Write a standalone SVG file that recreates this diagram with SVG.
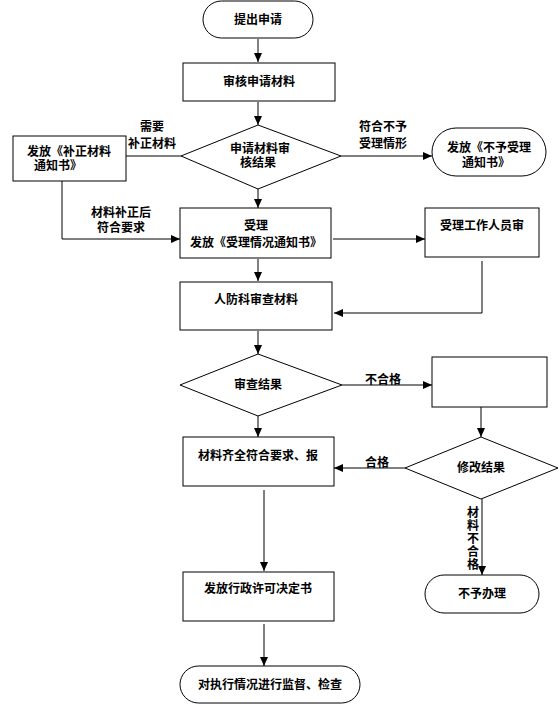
<svg xmlns="http://www.w3.org/2000/svg" width="560" height="705" viewBox="0 0 560 705">
<style>
.s{fill:#fff;stroke:#000;stroke-width:1}
.t{font-family:"Noto Sans CJK SC","Noto Sans",sans-serif;font-size:12px;font-weight:bold;fill:#000;text-anchor:middle}
.v{font-family:"Noto Sans CJK SC","Noto Sans",sans-serif;font-size:12px;font-weight:bold;fill:#000;writing-mode:vertical-rl;letter-spacing:1px}
.c{fill:none;stroke:#000;stroke-width:1}
</style>
<defs>
<marker id="a" markerUnits="userSpaceOnUse" markerWidth="9" markerHeight="8" refX="9" refY="4" orient="auto">
<path d="M0,0 L9,4 L0,8 z" fill="#000"/>
</marker>
</defs>
<rect width="560" height="705" fill="#fff"/>
<g id="connectors">
<line class="c" x1="258" y1="39" x2="258" y2="62" marker-end="url(#a)"/>
<line class="c" x1="258" y1="102" x2="258" y2="125" marker-end="url(#a)"/>
<line class="c" x1="126" y1="156" x2="181" y2="156"/>
<line class="c" x1="341" y1="156" x2="432" y2="156" marker-end="url(#a)"/>
<line class="c" x1="258" y1="189" x2="258" y2="208" marker-end="url(#a)"/>
<polyline class="c" points="62,181 62,239 180,239" marker-end="url(#a)"/>
<line class="c" x1="333" y1="239" x2="425" y2="239" marker-end="url(#a)"/>
<polyline class="c" points="482,261 482,313 334,313" marker-end="url(#a)"/>
<line class="c" x1="258" y1="259" x2="258" y2="281" marker-end="url(#a)"/>
<line class="c" x1="258" y1="331" x2="258" y2="354" marker-end="url(#a)"/>
<line class="c" x1="342" y1="385" x2="432" y2="385" marker-end="url(#a)"/>
<line class="c" x1="481" y1="407" x2="481" y2="437" marker-end="url(#a)"/>
<line class="c" x1="258" y1="416" x2="258" y2="437" marker-end="url(#a)"/>
<line class="c" x1="405" y1="468" x2="334" y2="468" marker-end="url(#a)"/>
<line class="c" x1="264" y1="490" x2="264" y2="571" marker-end="url(#a)"/>
<line class="c" x1="482" y1="499" x2="482" y2="575" marker-end="url(#a)"/>
<line class="c" x1="264" y1="624" x2="264" y2="666" marker-end="url(#a)"/>
<text class="t" x="152" y="131">需要<tspan x="152" dy="17">补正材料</tspan></text>
<text class="t" x="383" y="131">符合不予<tspan x="383" dy="17">受理情形</tspan></text>
<text class="t" x="121" y="217">材料补正后<tspan x="121" dy="15">符合要求</tspan></text>
<text class="t" x="383" y="384">不合格</text>
<text class="t" x="377" y="467">合格</text>
<text class="v" x="473" y="506">材料不合格</text>
</g>
<g id="n1"><rect class="s" x="203" y="1" width="110" height="37" rx="18.5"/><text class="t" x="258" y="24">提出申请</text></g>
<g id="n2"><rect class="s" x="183" y="63" width="152" height="38"/><text class="t" x="259" y="86">审核申请材料</text></g>
<g id="n3"><polygon class="s" points="258,125 341,156 258,189 181,156"/><text class="t" x="260" y="153">申请材料审<tspan x="258" dy="14">核结果</tspan></text></g>
<g id="n4"><rect class="s" x="13" y="136" width="113" height="45"/><text class="t" x="69" y="156">发放《补正材料<tspan x="58" dy="14">通知书》</tspan></text></g>
<g id="n5"><rect class="s" x="432" y="128" width="114" height="48" rx="24"/><text class="t" x="489" y="152">发放《不予受理<tspan x="486" dy="15">通知书》</tspan></text></g>
<g id="n6"><rect class="s" x="180" y="208" width="151" height="50"/><text class="t" x="256" y="230">受理<tspan x="256" dy="17">发放《受理情况通知书》</tspan></text></g>
<g id="n7"><rect class="s" x="425" y="208" width="114" height="49"/><text class="t" x="482" y="230">受理工作人员审</text></g>
<g id="n8"><rect class="s" x="180" y="282" width="152" height="48"/><text class="t" x="256" y="304">人防科审查材料</text></g>
<g id="n9"><polygon class="s" points="258,354 342,385 258,416 180,385"/><text class="t" x="258" y="389">审查结果</text></g>
<g id="n10"><rect class="s" x="432" y="357" width="115" height="50"/></g>
<g id="n11"><polygon class="s" points="481,437 558,468 481,499 405,468"/><text class="t" x="481" y="472">修改结果</text></g>
<g id="n12"><rect class="s" x="183" y="437" width="151" height="49"/><text class="t" x="258" y="460">材料齐全符合要求、报</text></g>
<g id="n13"><rect class="s" x="183" y="572" width="151" height="49"/><text class="t" x="258" y="593">发放行政许可决定书</text></g>
<g id="n14"><rect class="s" x="425" y="575" width="114" height="38" rx="19"/><text class="t" x="482" y="598">不予办理</text></g>
<g id="n15"><rect class="s" x="180" y="666" width="180" height="37" rx="18.5"/><text class="t" x="270" y="689">对执行情况进行监督、检查</text></g>
</svg>
